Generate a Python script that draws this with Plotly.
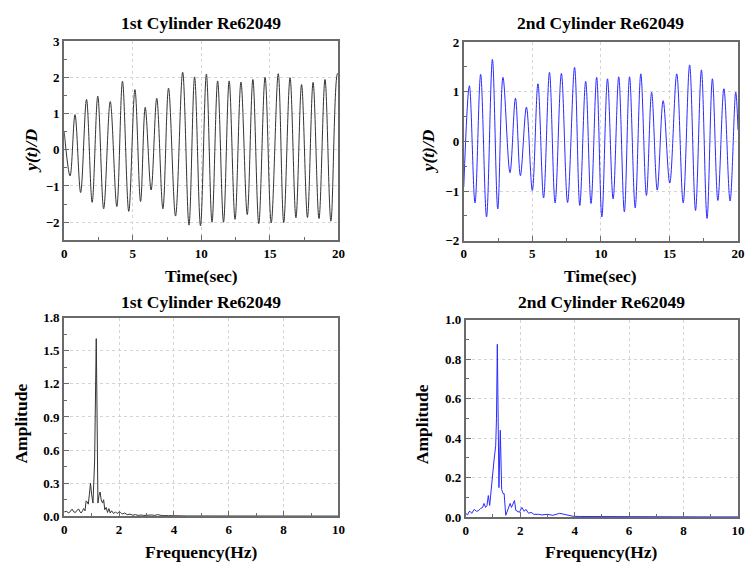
import plotly.graph_objects as go

# ---- Data ----
# 1st cylinder time history: extremes (time in s, y/D)
t1 = [0, 0.43, 0.79, 1.2, 1.63, 2.04, 2.45, 2.88, 3.36, 3.84, 4.25, 4.71, 5.16, 5.57,
      5.91, 6.34, 6.75, 7.2, 7.61, 8.12, 8.64, 9.1, 9.51, 9.94, 10.37, 10.78, 11.19,
      11.62, 12.03, 12.46, 12.89, 13.35, 13.76, 14.19, 14.65, 15.1, 15.61, 16.01,
      16.47, 16.9, 17.31, 17.74, 18.15, 18.58, 19.02, 19.45, 19.93, 20.0]
y1 = [0.5, -0.72, 0.97, -1.18, 1.39, -1.45, 1.48, -1.63, 1.33, -1.57, 1.89, -1.70,
      1.66, -1.43, 1.17, -1.11, 1.42, -1.63, 1.70, -1.83, 2.14, -2.08, 2.01, -2.10,
      2.09, -2.0, 1.9, -2.0, 1.9, -1.92, 1.87, -1.79, 1.94, -2.04, 2.0, -2.02, 2.1,
      -2.01, 1.99, -1.88, 1.8, -1.87, 1.86, -1.9, 1.94, -1.97, 2.1, 2.08]

# 2nd cylinder time history
t2 = [0, 0.41, 0.82, 1.23, 1.66, 2.09, 2.48, 2.86, 3.37, 3.77, 4.13, 4.57, 5.0, 5.41,
      5.82, 6.25, 6.66, 7.12, 7.57, 8.08, 8.46, 8.89, 9.28, 9.69, 10.07, 10.48,
      10.89, 11.3, 11.71, 12.09, 12.5, 12.91, 13.32, 13.7, 14.11, 14.54, 15.02,
      15.53, 16.0, 16.47, 16.9, 17.33, 17.74, 18.13, 18.53, 18.97, 19.42, 19.83, 20.0]
y2 = [-0.92, 1.12, -1.24, 1.35, -1.52, 1.65, -1.36, 1.29, -0.63, 0.87, -0.69, 0.69,
      -0.99, 1.16, -1.14, 1.39, -1.24, 1.37, -1.23, 1.49, -1.29, 1.21, -1.25, 1.29,
      -1.52, 1.26, -1.16, 1.3, -1.42, 1.3, -1.34, 1.36, -1.09, 0.99, -0.98, 0.82,
      -0.84, 1.36, -1.24, 1.54, -1.39, 1.44, -1.55, 1.26, -1.19, 1.06, -1.2, 0.99, 0.23]

# 1st cylinder amplitude spectrum
f1 = [0, 0.08, 0.17, 0.25, 0.29, 0.35, 0.41, 0.47, 0.53, 0.58, 0.62, 0.67, 0.71, 0.76,
      0.80, 0.84, 0.88, 0.92, 0.96, 1.0, 1.05, 1.11, 1.17, 1.2, 1.23, 1.27, 1.31,
      1.35, 1.40, 1.44, 1.48, 1.53, 1.58, 1.63, 1.68, 1.73, 1.8, 1.87, 1.93, 2.0,
      2.06, 2.12, 2.2, 2.3, 2.4, 2.5, 2.6, 2.7, 2.8, 2.9, 3.0, 3.1, 3.2, 3.3, 3.4,
      3.5, 3.6, 3.8, 4.0, 4.5, 5, 6, 7, 8, 9, 10]
a1 = [0.04, 0.045, 0.03, 0.05, 0.065, 0.04, 0.035, 0.055, 0.065, 0.04, 0.03, 0.05,
      0.07, 0.05, 0.14, 0.13, 0.11, 0.2, 0.30, 0.2, 0.12, 0.5, 1.61, 0.9, 0.12, 0.19,
      0.22, 0.15, 0.12, 0.15, 0.06, 0.08, 0.035, 0.07, 0.03, 0.05, 0.025, 0.04,
      0.025, 0.04, 0.035, 0.02, 0.03, 0.015, 0.02, 0.01, 0.015, 0.008, 0.012, 0.008,
      0.01, 0.006, 0.012, 0.008, 0.015, 0.01, 0.006, 0.006, 0.004, 0.003, 0.003,
      0.002, 0.002, 0.002, 0.002, 0.002]

# 2nd cylinder amplitude spectrum
f2 = [0, 0.07, 0.12, 0.16, 0.22, 0.31, 0.4, 0.48, 0.55, 0.62, 0.67, 0.73, 0.78, 0.83,
      0.88, 0.95, 1.04, 1.1, 1.13, 1.16, 1.22, 1.27, 1.32, 1.37, 1.41, 1.47, 1.55,
      1.63, 1.68, 1.74, 1.79, 1.84, 1.9, 1.97, 2.06, 2.15, 2.21, 2.31, 2.4, 2.5,
      2.68, 2.8, 3.0, 3.2, 3.45, 3.6, 3.8, 3.94, 4.2, 5, 6, 7, 8, 9, 10]
a2 = [0.02, 0.012, 0.028, 0.03, 0.02, 0.04, 0.03, 0.035, 0.045, 0.05, 0.07, 0.05,
      0.06, 0.11, 0.06, 0.17, 0.29, 0.36, 0.5, 0.875, 0.15, 0.44, 0.14, 0.12, 0.12,
      0.01, 0.04, 0.07, 0.05, 0.065, 0.085, 0.035, 0.03, 0.025, 0.05, 0.03, 0.04,
      0.02, 0.025, 0.015, 0.015, 0.012, 0.015, 0.01, 0.02, 0.015, 0.008, 0.005,
      0.004, 0.003, 0.003, 0.002, 0.002, 0.002, 0.002]

titles = ["1st Cylinder Re62049", "2nd Cylinder Re62049",
          "1st Cylinder Re62049", "2nd Cylinder Re62049"]

# ---- Figure ----
W, H = 748, 573
FONT = "Liberation Serif, Times New Roman, serif"
BLACK_LINE = "#333333"
BLUE_LINE = "#2a2aff"
FRAME = "#6a6a6a"

def px(x):
    return x / W

def py(y):
    return 1 - y / H

fig = go.Figure()
fig.add_trace(go.Scatter(x=t1, y=y1, mode="lines", line=dict(color=BLACK_LINE, width=1, shape="spline", smoothing=1.0),
                         xaxis="x", yaxis="y", showlegend=False))
fig.add_trace(go.Scatter(x=t2, y=y2, mode="lines", line=dict(color=BLUE_LINE, width=1, shape="spline", smoothing=1.0),
                         xaxis="x2", yaxis="y2", showlegend=False))
fig.add_trace(go.Scatter(x=f1, y=a1, mode="lines", line=dict(color=BLACK_LINE, width=1),
                         xaxis="x3", yaxis="y3", showlegend=False))
fig.add_trace(go.Scatter(x=f2, y=a2, mode="lines", line=dict(color=BLUE_LINE, width=1),
                         xaxis="x4", yaxis="y4", showlegend=False))

def axis(domain, rng, dtick, minor_dtick, anchor, fmt=None):
    d = dict(
        domain=domain, range=rng, dtick=dtick, tick0=0, anchor=anchor,
        showline=True, linecolor=FRAME, linewidth=2, mirror=True,
        ticks="inside", ticklen=5, tickwidth=1, tickcolor=FRAME,
        showgrid=True, gridcolor="#d4d4d4", griddash="dot", gridwidth=1,
        zeroline=False,
        tickfont=dict(family=FONT, size=13, color="black", weight="bold"),
        minor=dict(dtick=minor_dtick, tick0=0, ticks="inside", ticklen=3, tickcolor=FRAME, showgrid=False),
        fixedrange=True,
    )
    if fmt:
        d["tickformat"] = fmt
    return d

dom_x_left = [px(62), px(340)]
dom_x_right = [px(467), px(745)]
dom_x_right_b = [px(469), px(745)]
dom_y_top_l = [py(239.6), py(35)]
dom_y_top_r = [py(240), py(36)]
dom_y_bot_l = [py(523), py(319)]
dom_y_bot_r = [py(524), py(321)]

fig.update_layout(
    width=W, height=H,
    margin=dict(l=0, r=0, t=0, b=0),
    paper_bgcolor="white", plot_bgcolor="white",
    xaxis=axis(dom_x_left, [0, 20], 5, 2.5, "y"),
    yaxis=axis(dom_y_top_l, [-2.5, 3], 1, 0.5, "x"),
    xaxis2=axis(dom_x_right, [0, 20], 5, 2.5, "y2"),
    yaxis2=axis(dom_y_top_r, [-2, 2], 1, 0.5, "x2"),
    xaxis3=axis(dom_x_left, [0, 10], 2, 1, "y3"),
    yaxis3=axis(dom_y_bot_l, [0, 1.8], 0.3, 0.15, "x3", ".1f"),
    xaxis4=axis(dom_x_right_b, [0, 10], 2, 1, "y4"),
    yaxis4=axis(dom_y_bot_r, [0, 1.0], 0.2, 0.1, "x4", ".1f"),
)

ann = []
def text(x, y, s, size=17.5, angle=0):
    ann.append(dict(x=px(x), y=py(y), xref="paper", yref="paper", text=s, showarrow=False,
                    xanchor="center", yanchor="middle", textangle=angle,
                    font=dict(family=FONT, size=size, color="black", weight="bold")))

# titles
text(201, 16, titles[0])
text(606, 16, titles[1])
text(201, 303, titles[2])
text(607, 303, titles[3])
# x axis titles
text(201, 276, "Time(sec)")
text(606, 276, "Time(sec)")
text(201, 560, "Frequency(Hz)")
text(607, 560, "Frequency(Hz)")
# y axis titles
text(29, 148, "<i>y(t)/D</i>", angle=-90)
text(431, 148, "<i>y(t)/D</i>", angle=-90)
text(18, 428, "Amplitude", angle=-90)
text(424, 428, "Amplitude", angle=-90)

fig.update_layout(annotations=ann)
fig.write_html("out.html")
